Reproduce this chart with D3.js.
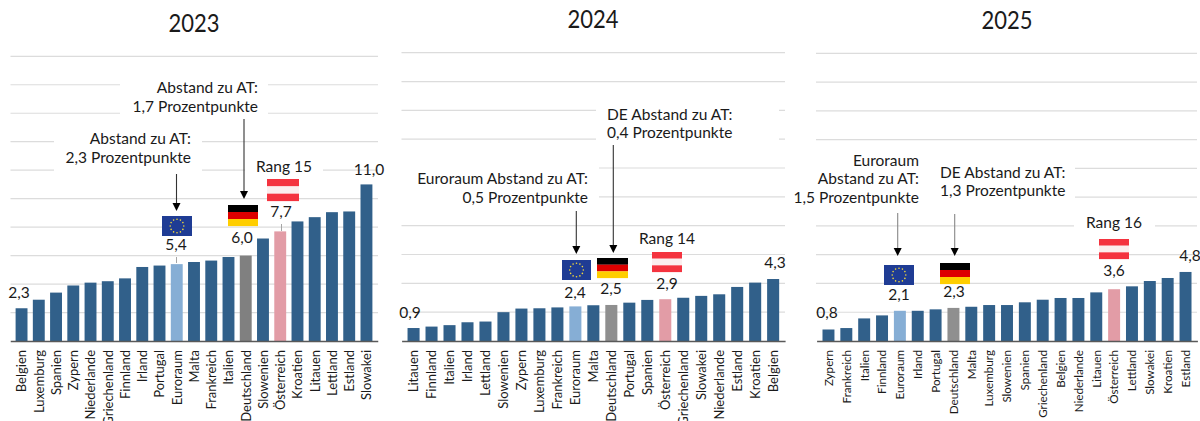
<!DOCTYPE html>
<html><head><meta charset="utf-8">
<script src="https://cdn.jsdelivr.net/npm/d3@7/dist/d3.min.js"></script>
<style>html,body{margin:0;background:#fff}svg{display:block}text{font-family:Lato,"Open Sans",sans-serif;fill:#1a1a1a}</style>
</head><body><div id="c"></div>
<script>
const categories2023=["Belgien","Luxemburg","Spanien","Zypern","Niederlande","Griechenland","Finnland","Irland","Portugal","Euroraum","Malta","Frankreich","Italien","Deutschland","Slowenien","Österreich","Kroatien","Litauen","Lettland","Estland","Slowakei"];
const values2023=[2.3,2.9,3.4,3.9,4.1,4.2,4.4,5.2,5.3,5.4,5.55,5.65,5.9,6.0,7.2,7.7,8.4,8.7,9.05,9.1,11.0];
const categories2024=["Litauen","Finnland","Italien","Irland","Lettland","Slowenien","Zypern","Luxemburg","Frankreich","Euroraum","Malta","Deutschland","Portugal","Spanien","Österreich","Griechenland","Slowakei","Niederlande","Estland","Kroatien","Belgien"];
const values2024=[0.9,1.0,1.1,1.3,1.35,2.0,2.25,2.27,2.33,2.4,2.48,2.5,2.66,2.85,2.9,3.0,3.13,3.24,3.75,4.05,4.3];
const categories2025=["Zypern","Frankreich","Italien","Finnland","Euroraum","Irland","Portugal","Deutschland","Malta","Luxemburg","Slowenien","Spanien","Griechenland","Belgien","Niederlande","Litauen","Österreich","Lettland","Slowakei","Kroatien","Estland"];
const values2025=[0.8,0.9,1.57,1.78,2.1,2.1,2.2,2.3,2.38,2.5,2.5,2.69,2.87,2.99,2.99,3.38,3.6,3.8,4.17,4.38,4.8];
const gridTicks=[2,4,6,8,10,12,14,16,18,20];

const W=1200,H=421,BASE=341,COND=0.97,TXT="16px";
const NAVY="#31608a",EURO="#86aed5",ROSE="#e29ca6";
const panels=[
 {year:"2023",cats:categories2023,vals:values2023,xr:[10.25,377.75],grid:[10.5,378],top:56.3,pad:.31,de:"#808080",tickFs:13.4,
  title:[194,32],
  masks:[[120,78,148,40],[54,135,148,40],[245,160,78,18]],
  notes:[{a:"end",x:258,ys:[93,112],t:["Abstand zu AT:","1,7 Prozentpunkte"]},{a:"end",x:191,ys:[144,163],t:["Abstand zu AT:","2,3 Prozentpunkte"]}],
  rang:["Rang 15",284,172],
  labels:[["Belgien",19,298],["Euroraum",176,250],["Deutschland",242,243],["Österreich",281,217],["Slowakei",369,175]],
  leaders:[[176.5,257,263],[281.5,224,231]],
  arrows:[[176.5,174,211,"#333"],[244,119,199,"#333"]],
  flags:{eu:[162,216,30,20],de:[228,205,30,21],at:[267,179,32,22]}},
 {year:"2024",cats:categories2024,vals:values2024,xr:[401.6,785.1],grid:[401.5,785],top:52.7,pad:.33,de:"#8f8f8f",tickFs:13.4,
  title:[593,28],
  masks:[[596,105,183,40],[400,160,199,45]],
  notes:[{a:"start",x:607,ys:[120,138],t:["DE Abstand zu AT:","0,4 Prozentpunkte"]},{a:"end",x:588,ys:[184,203],t:["Euroraum Abstand zu AT:","0,5 Prozentpunkte"]}],
  rang:["Rang 14",667,244],
  labels:[["Litauen",410,318],["Euroraum",575,298],["Deutschland",611,294],["Österreich",667,289],["Belgien",775,268]],
  leaders:[],
  arrows:[[576.3,211,254,"#333"],[613.3,145,253,"#333"]],
  flags:{eu:[562,260,29,20],de:[597,258,31,20],at:[652,252,30,20]}},
 {year:"2025",cats:categories2025,vals:values2025,xr:[816.6,1197.4],grid:[816,1197],top:53.3,pad:.33,de:"#8f8f8f",tickFs:12,
  title:[1007,29],
  masks:[[810,160,265,45],[1074,220,81,12]],
  notes:[{a:"end",x:919,ys:[166,184,203],t:["Euroraum","Abstand zu AT:","1,5 Prozentpunkte"]},{a:"start",x:940,ys:[178,196],t:["DE Abstand zu AT:","1,3 Prozentpunkte"]}],
  rang:["Rang 16",1114,228],
  labels:[["Zypern",827,318],["Euroraum",899,300],["Deutschland",954,297],["Österreich",1114,276],["Estland",1190,261]],
  leaders:[],
  arrows:[[897.7,213,256,"#888"],[954.7,214,256,"#888"]],
  flags:{eu:[884,265,30,20],de:[940,263,30,21],at:[1099,239,30,20]}}
];
const fmt=d3.format(".1f");
const svg=d3.select("#c").append("svg").attr("width",W).attr("height",H).attr("viewBox",`0 0 ${W} ${H}`);
function squeeze(sel,k=COND){sel.each(function(){const n=this.getComputedTextLength();d3.select(this).attr("textLength",n*k).attr("lengthAdjust","spacingAndGlyphs");});}

function flag(g,kind,[x,y,w,h]){
 if(kind==="de"){["#000","#dd0000","#ffce00"].forEach((c,i)=>g.append("rect").attr("x",x).attr("y",y+i*h/3).attr("width",w).attr("height",h/3+.1).attr("fill",c));}
 else if(kind==="at"){["#f4333f","#fbeeee","#f4333f"].forEach((c,i)=>g.append("rect").attr("x",x).attr("y",y+i*h/3).attr("width",w).attr("height",h/3+.1).attr("fill",c));}
 else{g.append("rect").attr("x",x).attr("y",y).attr("width",w).attr("height",h).attr("fill","#1f3c94");
  d3.range(12).forEach(i=>{const a=i*Math.PI/6;g.append("circle").attr("cx",x+w/2+h*.34*Math.cos(a)).attr("cy",y+h/2+h*.34*Math.sin(a)).attr("r",.8).attr("fill","#f2d83a");});}
}

panels.forEach(p=>{
 const g=svg.append("g");
 const x=d3.scaleBand().domain(p.cats).range(p.xr).padding(p.pad);
 const y=d3.scaleLinear().domain([0,20]).range([BASE,p.top]);
 g.append("g").selectAll("line").data(gridTicks).join("line")
  .attr("x1",p.grid[0]).attr("x2",p.grid[1]).attr("y1",d=>y(d)).attr("y2",d=>y(d))
  .attr("stroke","#dcdcdc").attr("stroke-width",1.2);
 g.append("g").selectAll("rect").data(p.masks).join("rect")
  .attr("x",d=>d[0]).attr("y",d=>d[1]).attr("width",d=>d[2]).attr("height",d=>d[3]).attr("fill","#fff");
 const col=c=>c==="Euroraum"?EURO:c==="Deutschland"?p.de:c==="Österreich"?ROSE:NAVY;
 g.append("g").selectAll("rect").data(p.cats).join("rect")
  .attr("x",c=>x(c)).attr("width",x.bandwidth())
  .attr("y",(c,i)=>y(p.vals[i])).attr("height",(c,i)=>BASE-y(p.vals[i]))
  .attr("fill",col);
 const ax=g.append("g").attr("transform",`translate(0,${BASE})`).call(d3.axisBottom(x).tickSize(0));
 ax.select(".domain").attr("stroke","#595959").attr("stroke-width",1.5);
 ax.selectAll("text").attr("transform","rotate(-90)").attr("text-anchor","end")
  .attr("x",-9).attr("y",0).attr("dy",".36em").style("font-size",p.tickFs+"px").style("font-family","Lato").style("fill","#1a1a1a");
 squeeze(ax.selectAll("text"));
 g.append("text").attr("x",p.title[0]).attr("y",p.title[1]).attr("text-anchor","middle").style("font-size","25px").text(p.year).call(squeeze,0.88);
 g.append("g").selectAll("line").data(p.leaders).join("line")
  .attr("x1",d=>d[0]).attr("x2",d=>d[0]).attr("y1",d=>d[1]).attr("y2",d=>d[2]).attr("stroke","#a6a6a6");
 p.arrows.forEach(([ax0,y0,y1,c])=>{
  g.append("line").attr("x1",ax0).attr("x2",ax0).attr("y1",y0).attr("y2",y1-7).attr("stroke",c).attr("stroke-width",1.1);
  g.append("path").attr("d",`M${ax0-4},${y1-8}L${ax0+4},${y1-8}L${ax0},${y1}Z`).attr("fill","#000");
 });
 const fg=g.append("g");
 Object.entries(p.flags).forEach(([k,b])=>flag(fg,k,b));
 p.notes.forEach(n=>n.t.forEach((t,i)=>{
  g.append("text").attr("x",n.x).attr("y",n.ys[i]).attr("text-anchor",n.a).style("font-size",TXT).text(t).call(squeeze);
 }));
 g.append("text").attr("x",p.rang[1]).attr("y",p.rang[2]).attr("text-anchor","middle").style("font-size",TXT).text(p.rang[0]).call(squeeze);
 p.labels.forEach(([c,lx,ly])=>{
  const v=p.vals[p.cats.indexOf(c)];
  g.append("text").attr("x",lx).attr("y",ly).attr("text-anchor","middle").style("font-size",TXT).text(fmt(v).replace(".",",")).call(squeeze);
 });
});
</script></body></html>
